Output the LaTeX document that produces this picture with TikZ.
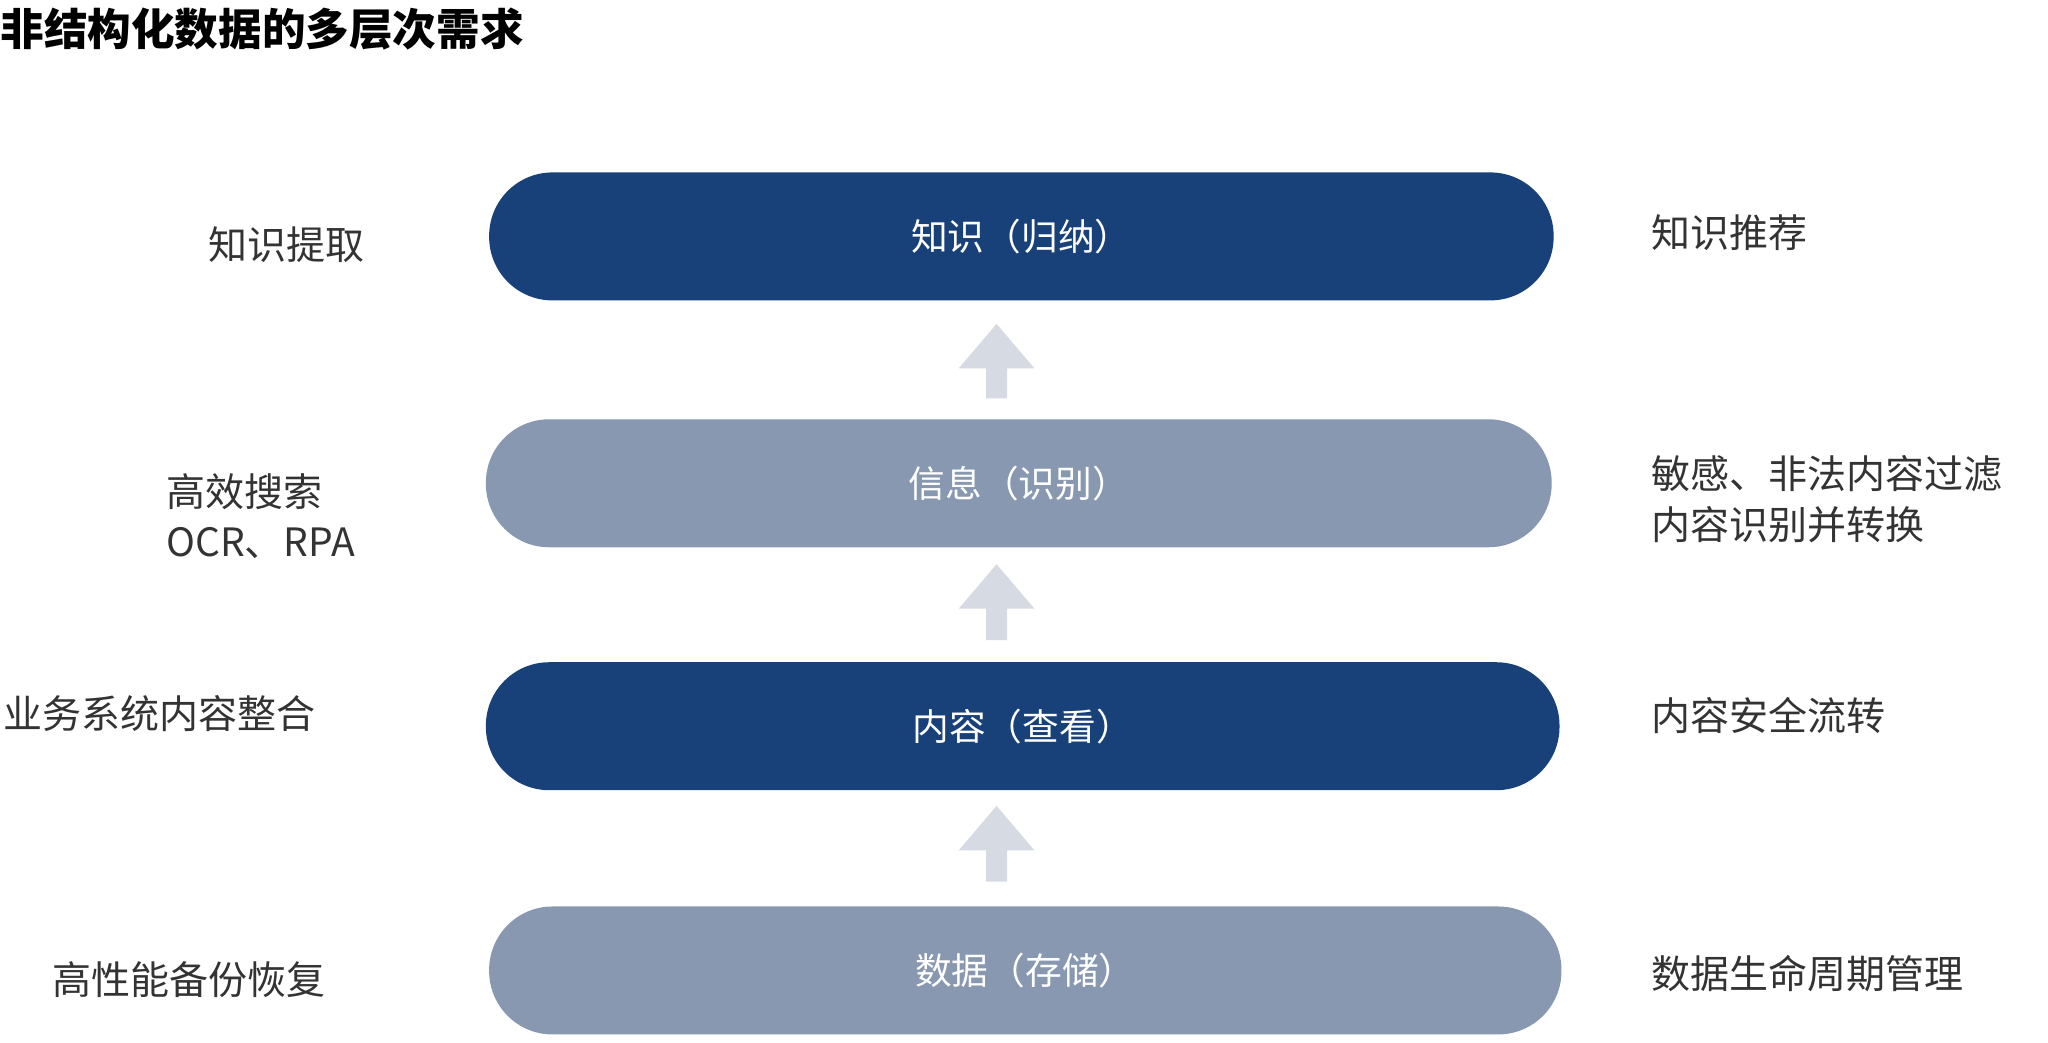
\documentclass[tikz,border=0pt]{standalone}
\usepackage{fontspec}
\setmainfont{Noto Sans CJK SC}
\usetikzlibrary{positioning}
\definecolor{darkblue}{HTML}{18417A}
\definecolor{greyblue}{HTML}{8898B0}
\definecolor{arrowgrey}{HTML}{D5DAE3}
\definecolor{txt}{HTML}{333333}
\tikzset{
  pill/.style={minimum width=#1*0.02cm, minimum height=1.96cm, rounded corners=0.97cm,
    text=white, font=\fontsize{16}{19}\selectfont, inner sep=0pt},
  side/.style={text=txt, font=\fontsize{17}{22}\selectfont, inner sep=0pt, align=left},
}
\begin{document}
\begin{tikzpicture}[x=0.02cm, y=-0.02cm]
	\useasboundingbox (0,0) rectangle (1568,798);
	% title
	\node[anchor=west, inner sep=0pt, text=black, font=\fontsize{19}{22}\selectfont\bfseries] (title) at (0,22) {非结构化数据的多层次需求};
	
	% layers
	\node[pill=815, fill=darkblue] (know) at (782,181) {知识（归纳）};
	\node[pill=816, fill=greyblue] (info) at (780,370) {信息（识别）};
	\node[pill=822, fill=darkblue] (cont) at (783,556) {内容（查看）};
	\node[pill=821, fill=greyblue] (data) at (785,743) {数据（存储）};
	
	% arrows between layers
	\foreach \top/\bot in {248/305, 432/490, 617/675}{
		\fill[arrowgrey] (763,\top) -- (792,\top+34) -- (771,\top+34) -- (771,\bot)
			-- (755,\bot) -- (755,\top+34) -- (734,\top+34) -- cycle;
	}
	
	% left labels
	\node[side] (lk) at (219,187) {知识提取};
	\node[side, anchor=west] (li) at (127,395) {高效搜索\\OCR、RPA};
	\node[side, anchor=west] (lc) at (2,546) {业务系统内容整合};
	\node[side, anchor=west] (ld) at (40,750) {高性能备份恢复};
	
	% right labels
	\node[side, anchor=west] (rk) at (1264,178) {知识推荐};
	\node[side, anchor=west] (ri) at (1264,382) {敏感、非法内容过滤\\内容识别并转换};
	\node[side, anchor=west] (rc) at (1264,548) {内容安全流转};
	\node[side, anchor=west] (rd) at (1264,745) {数据生命周期管理};
\end{tikzpicture}
\end{document}
